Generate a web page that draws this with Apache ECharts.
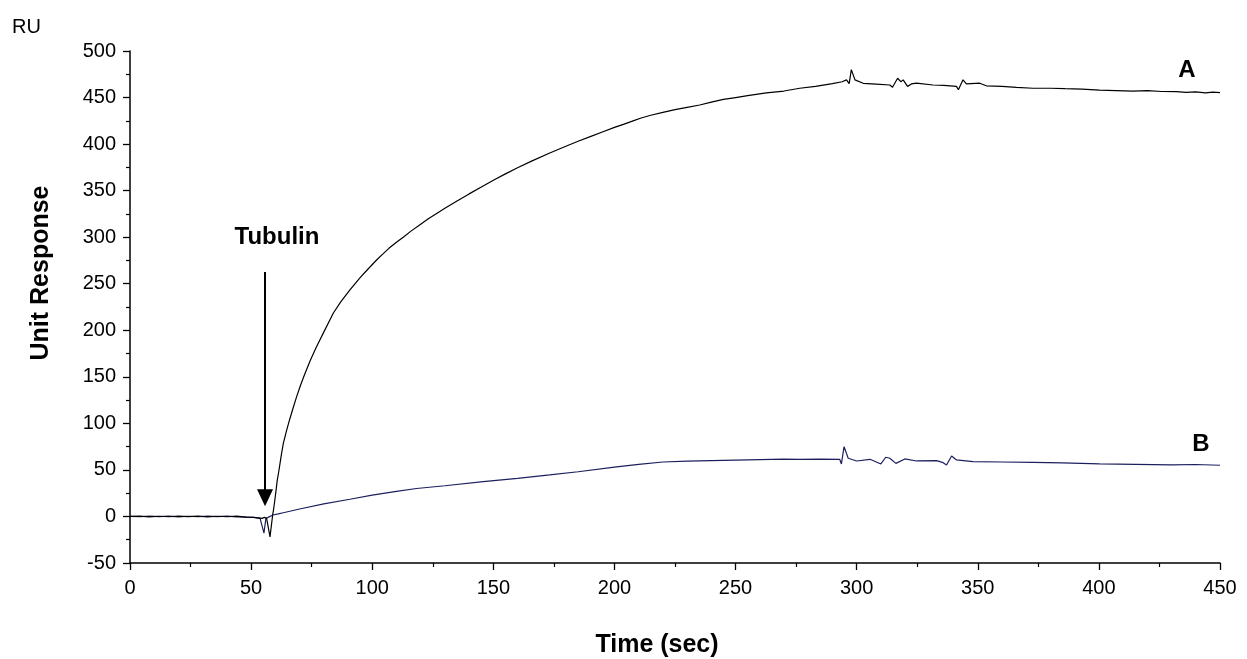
<!DOCTYPE html>
<html>
<head>
<meta charset="utf-8">
<script src="https://cdn.jsdelivr.net/npm/echarts@6/dist/echarts.min.js"></script>
<style>
html,body{margin:0;padding:0;background:#fff;}
#chart{width:1247px;height:659px;}
</style>
</head>
<body>
<div id="chart"></div>
<script>
// Curve A (time, response)
var timeA = [0,4,8,12,16,20,24,28,32,36,40,44,48,51,53,54.5,55.5,56.4,57.8,58.9,59.3,59.8,60.3,60.8,61.4,62,62.6,63.3,64.6,66,67.4,68.8,70.4,72,74.5,77,80,83.9,87,90.8,95,98,101.8,104,107,110,112.8,116,120,123,126.6,130,135,140,145.8,150,155,160,166,173.3,180.2,185,190,195,200,204,207.7,211,215,220,225,230,235.2,240,245,250,255,262.7,270,276.5,283,290,294,295.8,296.9,297.8,299.3,302.7,308,313.7,314.8,316.9,318.2,319.2,321,322.6,324.7,331.5,336,341.2,342,343.9,345.3,350.8,353.5,360,366,372.8,380,386,393,400.3,407,414,420,426,432,436,440,444,447,450];
var respA = [0,0.3,-0.4,0.2,-0.3,0.4,-0.2,0.3,-0.5,0.2,-0.3,0.3,-0.8,-1,-1.5,-2,-1,-2,-22,1.6,8,17.7,28,39,48,58,68,78.6,92,105,117,128.7,141,152,168,182.4,198,218.3,230.5,243.3,256.5,265,275.5,281,288.3,294.5,300,306.5,314,319.5,325.5,331,338.8,346.5,355,361.2,368,374.5,382,390.5,398,403,408,413,418,421.5,425,428,431,434,437,439.5,442,445,448,450,452,455,457,460,462,465,467,469,465,480,469,465.3,464.5,463.5,461,470.7,467,469,462,464.6,465.5,463.5,463,462,458.3,469,464.6,465.4,462.6,462,461,460,460,459.5,459,458,457.5,457,457.5,456.5,456.3,455.5,456,455,455.8,455.3];

// Curve B (time, response)
var timeB = [0,4,8,12,16,20,24,28,32,36,40,44,48,51,53.7,54.4,55.3,56.1,57,59,61.2,63.3,70,80,90.8,100,110,118.3,130,145.8,160,173.3,185,200,210,220,230,240,250,260,270,276.5,285,293,293.7,294.8,296.5,300,305.5,310,312,313.7,316.2,319.9,324.7,333,335.7,337.1,339.2,341.2,348,360,372.8,385,400.3,415,430,440,450];
var respB = [0,-0.3,0.4,-0.2,0.3,-0.4,0.2,-0.3,0.4,-0.2,0.3,-0.5,-0.8,-1,-2,-4,-18,-2,-1,1.6,2.7,4,8,13.5,18.5,23,27,30,33,37.4,41,44.6,48,53,56,58.5,59.5,60,60.5,61,61.5,61.4,61.5,61.4,56.4,75,62.5,59.6,61.4,56.4,63.6,62.5,57,61.8,59.6,60,57.8,55.3,65,60.7,58.9,58.5,58.2,57.5,56.4,56,55.5,55.8,55];

// Axis ticks
var xTicks = {min: 0, max: 450, interval: 50};
var yTicks = {min: -50, max: 500, interval: 50};

// Injection arrow (data coords)
var arrowTime = 55.75;
var arrowFrom = 262.6;
var arrowTo = 20;

function pairs(xs, ys){ var o=[]; for(var i=0;i<xs.length;i++) o.push([xs[i], ys[i]]); return o; }

var FONT = 'Liberation Sans, Arial, sans-serif';
var chart = echarts.init(document.getElementById('chart'));
chart.setOption({
  animation: false,
  backgroundColor: '#fff',
  grid: {left: 130, right: 27, top: 51, bottom: 96, containLabel: false},
  xAxis: {
    type: 'value', min: xTicks.min, max: xTicks.max, interval: xTicks.interval,
    axisLine: {onZero: false, lineStyle: {color: '#000', width: 1.5}},
    axisTick: {show: true, length: 7, lineStyle: {color: '#000', width: 1.3}},
    minorTick: {show: true, splitNumber: 2, length: 4, lineStyle: {color: '#000', width: 1.2}},
    splitLine: {show: false},
    axisLabel: {color: '#000', fontSize: 20, fontFamily: FONT, margin: 15}
  },
  yAxis: {
    type: 'value', min: yTicks.min, max: yTicks.max, interval: yTicks.interval,
    axisLine: {show: true, onZero: false, lineStyle: {color: '#000', width: 1.5}},
    axisTick: {show: true, length: 7, lineStyle: {color: '#000', width: 1.3}},
    minorTick: {show: true, splitNumber: 2, length: 4, lineStyle: {color: '#000', width: 1.2}},
    splitLine: {show: false},
    axisLabel: {color: '#000', fontSize: 20, fontFamily: FONT, margin: 14}
  },
  graphic: [
    {type: 'text', left: 12, top: 17, style: {text: 'RU', fontSize: 20, fontFamily: FONT, fill: '#000'}},
    {type: 'text', x: 41, y: 273, rotation: Math.PI/2, style: {text: 'Unit Response', fontSize: 25, fontWeight: 'bold', fontFamily: FONT, fill: '#000', textAlign: 'center', textVerticalAlign: 'middle'}},
    {type: 'text', x: 657, y: 645, style: {text: 'Time (sec)', fontSize: 25, fontWeight: 'bold', fontFamily: FONT, fill: '#000', textAlign: 'center', textVerticalAlign: 'middle'}},
    {type: 'text', x: 277, y: 237, style: {text: 'Tubulin', fontSize: 24, fontWeight: 'bold', fontFamily: FONT, fill: '#000', textAlign: 'center', textVerticalAlign: 'middle'}},
    {type: 'text', x: 1187, y: 70, style: {text: 'A', fontSize: 24, fontWeight: 'bold', fontFamily: FONT, fill: '#000', textAlign: 'center', textVerticalAlign: 'middle'}},
    {type: 'text', x: 1201, y: 444, style: {text: 'B', fontSize: 24, fontWeight: 'bold', fontFamily: FONT, fill: '#000', textAlign: 'center', textVerticalAlign: 'middle'}}
  ],
  series: [
    {
      name: 'B', type: 'line', data: pairs(timeB, respB), showSymbol: false, symbol: 'none',
      lineStyle: {color: '#1c1f5e', width: 1.2}, z: 2
    },
    {
      name: 'A', type: 'line', data: pairs(timeA, respA), showSymbol: false, symbol: 'none',
      lineStyle: {color: '#000', width: 1.2}, z: 3,
      markLine: {
        silent: true, symbol: ['none', 'triangle'], symbolSize: [16, 17],
        label: {show: false},
        lineStyle: {color: '#000', width: 2, type: 'solid'},
        data: [[{coord: [arrowTime, arrowFrom]}, {coord: [arrowTime, arrowTo]}]]
      }
    }
  ]
});
</script>
</body>
</html>
